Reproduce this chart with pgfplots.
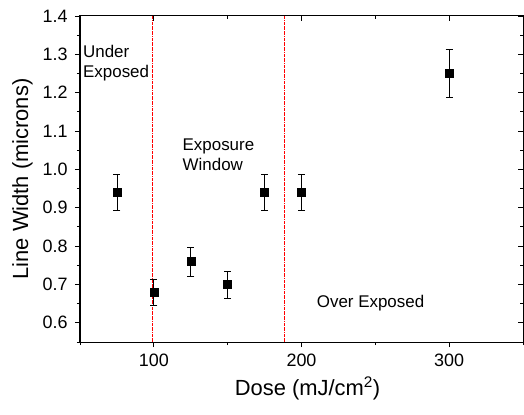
\documentclass[border=0pt]{standalone}
\usepackage{pgfplots}
\pgfplotsset{compat=1.18}
\usepackage{fontspec}
\setmainfont{Liberation Sans}
\begin{document}
\begin{tikzpicture}
\pgfplotsset{
  common/.style={
    scale only axis, width=443bp, height=326bp,
    xmin=50, xmax=350, ymin=0.55, ymax=1.4,
    xtick={100,200,300}, minor xtick={50,150,250,350},
    ytick={0.6,0.7,0.8,0.9,1.0,1.1,1.2,1.3,1.4},
    minor ytick={0.55,0.65,0.75,0.85,0.95,1.05,1.15,1.25,1.35},
    major tick length=5bp, minor tick length=3bp,
    axis line style={line width=1bp},
    every tick/.append style={black, line width=0.9bp},
    every minor tick/.append style={black, line width=0.9bp},
  }
}
\begin{axis}[common,
  tick align=outside, xtick pos=bottom, ytick pos=left,
  /pgf/number format/assume math mode=true,
  tick label style={font=\fontsize{18}{20}\selectfont},
  xticklabel style={yshift=-3bp},
  yticklabel style={xshift=-4bp, /pgf/number format/.cd, fixed, fixed zerofill, precision=1},
  xlabel={Dose (mJ/cm\textsuperscript{2})},
  ylabel={Line Width (microns)},
  label style={font=\fontsize{22}{24}\selectfont},
  xlabel style={xshift=6bp, yshift=-4bp},
  ylabel style={yshift=3bp},
]
\addplot[red, densely dashdotted, line width=0.6bp, forget plot] coordinates {(98.7,0.55) (98.7,1.4)};
\addplot[red, densely dashdotted, line width=0.6bp, forget plot] coordinates {(188.5,0.55) (188.5,1.4)};
\addplot[only marks, mark=square*, mark size=4bp, black,
  error bars/.cd, y dir=both, y explicit,
  error bar style={black, line width=0.7bp},
  error mark options={rotate=90, mark size=3.5bp, black, line width=0.7bp}]
  coordinates {
    (75,0.94) +- (0,0.047)
    (100,0.68) +- (0,0.034)
    (125,0.76) +- (0,0.038)
    (150,0.70) +- (0,0.035)
    (175,0.94) +- (0,0.047)
    (200,0.94) +- (0,0.047)
    (300,1.25) +- (0,0.0625)
  };
\node[anchor=north west, inner sep=0pt, align=left, font=\fontsize{17}{20}\selectfont] at (axis cs:52,1.325) {Under\\Exposed};
\node[anchor=north west, inner sep=0pt, align=left, font=\fontsize{17}{20}\selectfont] at (axis cs:119.4,1.08) {Exposure\\Window};
\node[anchor=north west, inner sep=0pt, align=left, font=\fontsize{17}{20}\selectfont] at (axis cs:210.3,0.673) {Over Exposed};
\end{axis}
\begin{axis}[common,
  tick align=inside, xtick pos=top, ytick pos=right,
  xticklabels={}, yticklabels={},
]
\end{axis}
\pgfresetboundingbox
\path ([shift={(-80bp,-73bp)}]current axis.south west) rectangle ([shift={(1bp,16bp)}]current axis.north east);
\end{tikzpicture}
\end{document}
